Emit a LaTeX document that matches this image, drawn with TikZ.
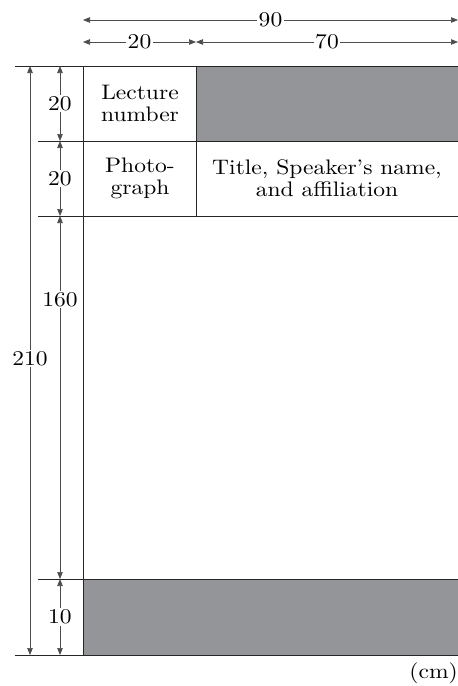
\documentclass[tikz,border=0pt]{standalone}
\usepackage{fontspec}
\setmainfont{lmroman10-regular.otf}[FakeStretch=1.12]
\usetikzlibrary{arrows.meta}
\definecolor{panel}{HTML}{939598}
\begin{document}
\begin{tikzpicture}[x=1pt,y=-1pt,font=\fontsize{21}{22}\selectfont,
  dim/.style={draw=black!70,line width=0.7pt,{Triangle[length=7pt,width=5.5pt]}-{Triangle[length=7pt,width=5.5pt]}},
  rule/.style={draw=black!85,line width=0.8pt},
  lbl/.style={fill=white,inner sep=1.5pt},
  cell/.style={align=center,inner sep=0pt}]
\useasboundingbox (0,0) rectangle (458,686);
% gray panels
\fill[panel] (196,66) rectangle (458,141);
\fill[panel] (83,579) rectangle (458,655);
% rules
\draw[rule] (15,66) -- (458,66);
\draw[rule] (38,141) -- (458,141);
\draw[rule] (38,216) -- (458,216);
\draw[rule] (38,579) -- (458,579);
\draw[rule] (15,655) -- (458,655);
\draw[rule] (83,66) -- (83,655);
\draw[rule] (196,66) -- (196,216);
% coordinates for dimensions
\coordinate (hL) at (83,20);  \coordinate (hR) at (458,20);
\coordinate (aL) at (83,42);  \coordinate (aM) at (196,42); \coordinate (aR) at (458,42);
\coordinate (vT) at (30,66);  \coordinate (vB) at (30,655);
\coordinate (i0) at (60,66);  \coordinate (i1) at (60,141); \coordinate (i2) at (60,216);
\coordinate (i3) at (60,579); \coordinate (i4) at (60,655);
% dimension lines
\draw[dim] (hL) -- node[lbl] (d90) {90} (hR);
\draw[dim] (aL) -- node[lbl] (d20a) {20} (aM);
\draw[dim] (aM) -- node[lbl] (d70) {70} (aR);
\draw[dim] (vT) -- node[lbl,pos=0.497] (d210) {210} (vB);
\draw[dim] (i0) -- node[lbl] (d20b) {20} (i1);
\draw[dim] (i1) -- node[lbl] (d20c) {20} (i2);
\draw[dim] (i2) -- node[lbl,pos=0.23] (d160) {160} (i3);
\draw[dim] (i3) -- node[lbl] (d10) {10} (i4);
% cell texts
\node[cell] (lec) at (140,103.5) {Lecture\\number};
\node[cell] (pho) at (140,178.5) {Photo-\\graph};
\node[cell] (tit) at (327,178.5) {Title, Speaker's name,\\and affiliation};
\node[anchor=east,inner sep=0pt] (cm) at (458,673) {(cm)};
\end{tikzpicture}
\end{document}
